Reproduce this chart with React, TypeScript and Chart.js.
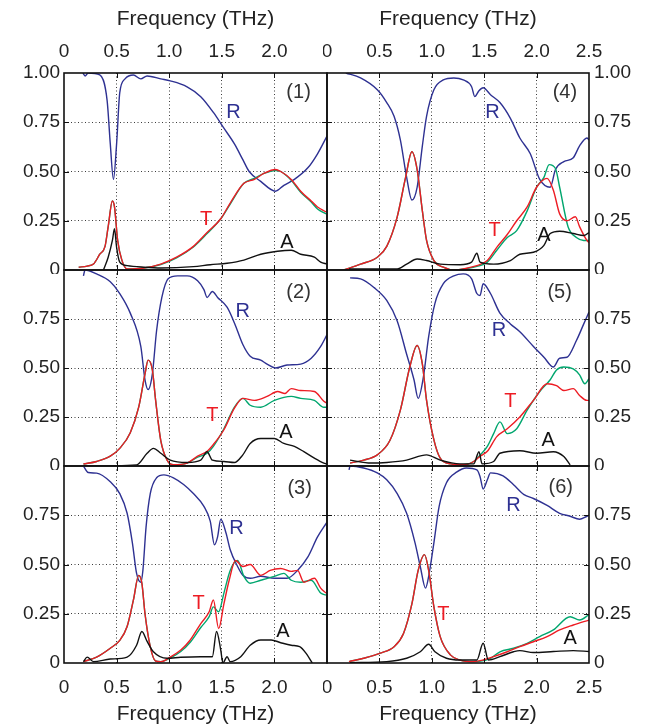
import React, { useEffect, useRef } from 'react';
import { Chart, registerables } from 'chart.js';
Chart.register(...registerables);

const FONT = '"Liberation Sans", Arial, Helvetica, sans-serif';
const C_R = '#2e3192';
const C_T = '#ed1c24';
const C_G = '#00a66e';
const C_A = '#111111';
const C_NUM = '#333333';

const axisTitle = 'Frequency (THz)';
const xTickValues = [0, 0.5, 1, 1.5, 2, 2.5];
const xTickLabelsLeft = ['0', '0.5', '1.0', '1.5', '2.0', ''];
const xTickLabelsRight = ['0', '0.5', '1.0', '1.5', '2.0', '2.5'];
const yTickValues = [0, 0.25, 0.5, 0.75, 1];
const yTickLabelsTop = ['0', '0.25', '0.50', '0.75', '1.00'];
const yTickLabelsLower = ['0', '0.25', '0.50', '0.75', ''];

type P = [number, number][];

// ---------- Panel (1) ----------
const p1R: P = [[0.18,1.0],[0.2,0.985],[0.23,1.0],[0.34,0.99],[0.41,0.86],[0.44,0.64],[0.47,0.46],[0.5,0.64],[0.53,0.9],[0.58,0.97],[0.66,0.99],[0.73,0.97],[0.79,0.985],[0.92,0.97],[1.01,0.96],[1.17,0.93],[1.30,0.88],[1.42,0.80],[1.52,0.72],[1.62,0.64],[1.70,0.56],[1.76,0.50],[1.87,0.45],[2.01,0.40],[2.09,0.43],[2.19,0.46],[2.32,0.52],[2.41,0.59],[2.5,0.68]];
const p1T: P = [[0.14,0.014],[0.22,0.02],[0.28,0.03],[0.34,0.08],[0.39,0.12],[0.42,0.22],[0.46,0.35],[0.48,0.32],[0.51,0.15],[0.55,0.05],[0.6,0.005],[0.76,0.01],[0.92,0.03],[1.07,0.065],[1.23,0.12],[1.36,0.19],[1.49,0.26],[1.58,0.34],[1.71,0.44],[1.81,0.46],[1.9,0.49],[2.01,0.51],[2.06,0.50],[2.16,0.46],[2.25,0.40],[2.35,0.35],[2.41,0.32],[2.49,0.295]];
const p1G: P = [[0.14,0.014],[0.22,0.02],[0.28,0.03],[0.34,0.08],[0.39,0.12],[0.42,0.22],[0.46,0.35],[0.48,0.32],[0.51,0.15],[0.55,0.05],[0.6,0.005],[0.76,0.01],[0.92,0.028],[1.07,0.062],[1.23,0.117],[1.36,0.185],[1.49,0.26],[1.58,0.335],[1.71,0.44],[1.81,0.465],[1.9,0.49],[2.01,0.505],[2.06,0.50],[2.16,0.455],[2.25,0.395],[2.35,0.345],[2.41,0.31],[2.49,0.285]];
const p1A: P = [[0.375,0],[0.42,0.065],[0.46,0.15],[0.48,0.21],[0.5,0.115],[0.53,0.04],[0.6,0.022],[0.76,0.014],[0.92,0.01],[1.23,0.017],[1.39,0.027],[1.55,0.034],[1.71,0.05],[1.87,0.08],[2.03,0.095],[2.16,0.10],[2.25,0.08],[2.38,0.065],[2.44,0.04],[2.5,0.03]];
const p1Labels = [
  { text: '(1)', f: 2.23, v: 0.9, kind: 'num' },
  { text: 'R', f: 1.61, v: 0.8, kind: 'R' },
  { text: 'T', f: 1.35, v: 0.255, kind: 'T' },
  { text: 'A', f: 2.12, v: 0.14, kind: 'A' },
];

// ---------- Panel (2) ----------
const p2R: P = [[0.185,0.97],[0.2,1.0],[0.31,0.98],[0.44,0.94],[0.53,0.88],[0.63,0.78],[0.73,0.61],[0.77,0.44],[0.80,0.39],[0.84,0.47],[0.88,0.69],[0.93,0.86],[0.99,0.955],[1.08,0.97],[1.17,0.97],[1.27,0.945],[1.33,0.90],[1.36,0.86],[1.41,0.89],[1.46,0.86],[1.55,0.81],[1.62,0.73],[1.70,0.62],[1.77,0.56],[1.87,0.54],[1.93,0.52],[2.01,0.50],[2.12,0.515],[2.25,0.52],[2.35,0.55],[2.44,0.61],[2.5,0.67]];
const p2T: P = [[0.185,0.01],[0.31,0.023],[0.44,0.05],[0.53,0.09],[0.63,0.17],[0.71,0.30],[0.77,0.47],[0.80,0.54],[0.84,0.49],[0.87,0.34],[0.92,0.13],[0.98,0.03],[1.04,0.006],[1.17,0.015],[1.27,0.05],[1.36,0.075],[1.42,0.11],[1.52,0.185],[1.62,0.295],[1.70,0.345],[1.81,0.335],[1.93,0.355],[2.03,0.38],[2.1,0.37],[2.16,0.395],[2.25,0.385],[2.38,0.38],[2.47,0.33],[2.5,0.32]];
const p2G: P = [[0.185,0.01],[0.31,0.023],[0.44,0.05],[0.53,0.09],[0.63,0.17],[0.71,0.30],[0.77,0.47],[0.80,0.54],[0.84,0.49],[0.87,0.34],[0.92,0.13],[0.98,0.03],[1.04,0.006],[1.17,0.015],[1.27,0.045],[1.36,0.065],[1.42,0.10],[1.52,0.19],[1.62,0.30],[1.70,0.345],[1.77,0.31],[1.87,0.30],[2.0,0.335],[2.16,0.355],[2.25,0.345],[2.38,0.335],[2.47,0.30],[2.5,0.30]];
const p2A: P = [[0.185,0],[0.69,0.006],[0.79,0.065],[0.85,0.09],[0.92,0.065],[1.01,0.03],[1.17,0.018],[1.30,0.03],[1.36,0.073],[1.41,0.03],[1.52,0.023],[1.62,0.018],[1.70,0.057],[1.77,0.115],[1.87,0.14],[2.0,0.14],[2.09,0.115],[2.19,0.10],[2.28,0.073],[2.38,0.04],[2.47,0.015],[2.5,0.01]];
const p2Labels = [
  { text: '(2)', f: 2.23, v: 0.886, kind: 'num' },
  { text: 'R', f: 1.7, v: 0.79, kind: 'R' },
  { text: 'T', f: 1.41, v: 0.26, kind: 'T' },
  { text: 'A', f: 2.11, v: 0.17, kind: 'A' },
];

// ---------- Panel (3) ----------
const p3R: P = [[0.185,1.0],[0.23,0.967],[0.31,0.964],[0.44,0.92],[0.53,0.86],[0.6,0.76],[0.65,0.61],[0.69,0.455],[0.73,0.41],[0.75,0.47],[0.78,0.69],[0.82,0.86],[0.88,0.94],[0.95,0.955],[1.04,0.94],[1.14,0.905],[1.23,0.86],[1.33,0.795],[1.39,0.72],[1.43,0.60],[1.46,0.64],[1.49,0.73],[1.54,0.66],[1.58,0.575],[1.65,0.49],[1.70,0.445],[1.77,0.43],[1.87,0.44],[2.0,0.43],[2.12,0.43],[2.22,0.47],[2.32,0.54],[2.41,0.64],[2.5,0.715]];
const p3T: P = [[0.185,0.007],[0.31,0.03],[0.44,0.075],[0.53,0.115],[0.6,0.185],[0.66,0.32],[0.71,0.445],[0.74,0.405],[0.77,0.25],[0.82,0.083],[0.87,0.01],[0.92,0.007],[1.01,0.03],[1.11,0.066],[1.2,0.117],[1.30,0.2],[1.38,0.26],[1.42,0.32],[1.47,0.175],[1.52,0.30],[1.57,0.42],[1.63,0.52],[1.70,0.49],[1.77,0.50],[1.87,0.445],[1.96,0.47],[2.06,0.48],[2.16,0.465],[2.22,0.47],[2.28,0.41],[2.38,0.43],[2.44,0.38],[2.49,0.355]];
const p3G: P = [[0.185,0.007],[0.31,0.03],[0.44,0.075],[0.53,0.115],[0.6,0.185],[0.66,0.32],[0.71,0.445],[0.74,0.405],[0.77,0.25],[0.82,0.083],[0.87,0.01],[0.92,0.007],[1.01,0.025],[1.11,0.058],[1.2,0.105],[1.30,0.18],[1.38,0.235],[1.42,0.285],[1.47,0.26],[1.52,0.355],[1.58,0.47],[1.65,0.52],[1.71,0.44],[1.77,0.405],[1.87,0.42],[2.0,0.44],[2.09,0.455],[2.16,0.42],[2.25,0.41],[2.35,0.42],[2.44,0.355],[2.49,0.345]];
const p3A: P = [[0.185,0.007],[0.22,0.03],[0.28,0.007],[0.44,0.02],[0.6,0.03],[0.69,0.09],[0.74,0.16],[0.79,0.11],[0.85,0.057],[0.98,0.024],[1.11,0.029],[1.30,0.032],[1.41,0.032],[1.45,0.16],[1.49,0.066],[1.51,0],[1.55,0.032],[1.58,0.007],[1.68,0.032],[1.77,0.09],[1.87,0.117],[1.97,0.117],[2.06,0.103],[2.16,0.09],[2.24,0.083],[2.3,0.05],[2.36,0]];
const p3Labels = [
  { text: '(3)', f: 2.24, v: 0.887, kind: 'num' },
  { text: 'R', f: 1.64, v: 0.685, kind: 'R' },
  { text: 'T', f: 1.28, v: 0.3, kind: 'T' },
  { text: 'A', f: 2.08, v: 0.16, kind: 'A' },
];

// ---------- Panel (4) ----------
const p4R: P = [[0.18,1.0],[0.32,0.975],[0.48,0.915],[0.57,0.85],[0.64,0.78],[0.7,0.66],[0.76,0.47],[0.81,0.355],[0.86,0.42],[0.91,0.63],[0.95,0.78],[1.02,0.915],[1.11,0.965],[1.21,0.975],[1.30,0.965],[1.38,0.93],[1.41,0.88],[1.45,0.91],[1.49,0.925],[1.56,0.89],[1.65,0.85],[1.75,0.77],[1.84,0.67],[1.94,0.59],[2.03,0.46],[2.13,0.42],[2.18,0.51],[2.26,0.55],[2.35,0.57],[2.41,0.63],[2.48,0.67],[2.5,0.66]];
const p4T: P = [[0.16,0],[0.32,0.03],[0.48,0.065],[0.57,0.12],[0.67,0.27],[0.75,0.47],[0.81,0.60],[0.86,0.51],[0.91,0.30],[0.95,0.15],[1.02,0.048],[1.11,0.014],[1.21,0],[1.34,0.01],[1.43,0.022],[1.53,0.048],[1.62,0.115],[1.72,0.18],[1.81,0.25],[1.91,0.32],[2.0,0.42],[2.1,0.465],[2.16,0.405],[2.22,0.285],[2.29,0.25],[2.37,0.27],[2.41,0.22],[2.48,0.15],[2.5,0.14]];
const p4G: P = [[0.16,0],[0.32,0.03],[0.48,0.065],[0.57,0.12],[0.67,0.27],[0.75,0.47],[0.81,0.60],[0.86,0.51],[0.91,0.30],[0.95,0.15],[1.02,0.048],[1.11,0.014],[1.21,0],[1.34,0.008],[1.43,0.018],[1.53,0.04],[1.62,0.10],[1.72,0.165],[1.81,0.2],[1.91,0.30],[2.0,0.42],[2.07,0.47],[2.12,0.535],[2.18,0.515],[2.22,0.42],[2.3,0.22],[2.38,0.165],[2.45,0.15],[2.5,0.15]];
const p4A: P = [[0.21,0.005],[0.67,0.005],[0.76,0.03],[0.86,0.056],[0.95,0.048],[1.08,0.03],[1.27,0.027],[1.38,0.04],[1.43,0.085],[1.46,0.04],[1.59,0.03],[1.75,0.048],[1.84,0.08],[1.97,0.09],[2.07,0.125],[2.13,0.185],[2.22,0.197],[2.35,0.185],[2.45,0.175],[2.5,0.19]];
const p4Labels = [
  { text: '(4)', f: 2.27, v: 0.9, kind: 'num' },
  { text: 'R', f: 1.58, v: 0.8, kind: 'R' },
  { text: 'T', f: 1.6, v: 0.2, kind: 'T' },
  { text: 'A', f: 2.07, v: 0.175, kind: 'A' },
];

// ---------- Panel (5) ----------
const p5R: P = [[0.22,0.96],[0.32,0.955],[0.45,0.91],[0.57,0.845],[0.67,0.74],[0.76,0.57],[0.83,0.44],[0.87,0.345],[0.92,0.455],[0.97,0.66],[1.03,0.83],[1.11,0.93],[1.21,0.97],[1.30,0.98],[1.38,0.955],[1.43,0.88],[1.46,0.87],[1.49,0.93],[1.56,0.88],[1.65,0.78],[1.75,0.725],[1.84,0.685],[1.97,0.61],[2.07,0.555],[2.16,0.505],[2.22,0.55],[2.29,0.555],[2.38,0.64],[2.45,0.725],[2.5,0.785]];
const p5T: P = [[0.22,0.015],[0.35,0.03],[0.48,0.057],[0.6,0.13],[0.7,0.285],[0.79,0.505],[0.86,0.615],[0.91,0.52],[0.95,0.335],[1.02,0.133],[1.08,0.04],[1.18,0.011],[1.30,0.006],[1.40,0.023],[1.46,0.05],[1.53,0.075],[1.62,0.15],[1.72,0.19],[1.84,0.25],[1.97,0.335],[2.1,0.42],[2.19,0.41],[2.26,0.385],[2.35,0.395],[2.41,0.36],[2.48,0.335],[2.5,0.335]];
const p5G: P = [[0.22,0.015],[0.35,0.03],[0.48,0.057],[0.6,0.13],[0.7,0.285],[0.79,0.505],[0.86,0.615],[0.91,0.52],[0.95,0.335],[1.02,0.133],[1.08,0.04],[1.18,0.011],[1.30,0.006],[1.40,0.023],[1.46,0.055],[1.53,0.10],[1.59,0.165],[1.65,0.225],[1.72,0.165],[1.81,0.19],[1.91,0.285],[2.03,0.38],[2.13,0.44],[2.19,0.49],[2.26,0.505],[2.35,0.495],[2.41,0.465],[2.46,0.42],[2.5,0.445]];
const p5A: P = [[0.22,0.03],[0.42,0.015],[0.57,0.018],[0.76,0.03],[0.95,0.057],[1.08,0.03],[1.27,0.011],[1.40,0.011],[1.45,0.073],[1.48,0.011],[1.59,0.023],[1.65,0.065],[1.84,0.078],[2.0,0.065],[2.16,0.073],[2.26,0.048],[2.32,0.006]];
const p5Labels = [
  { text: '(5)', f: 2.22, v: 0.886, kind: 'num' },
  { text: 'R', f: 1.64, v: 0.69, kind: 'R' },
  { text: 'T', f: 1.75, v: 0.33, kind: 'T' },
  { text: 'A', f: 2.11, v: 0.13, kind: 'A' },
];

// ---------- Panel (6) ----------
const p6R: P = [[0.21,0.98],[0.22,1.0],[0.35,0.99],[0.48,0.965],[0.57,0.93],[0.67,0.86],[0.76,0.76],[0.84,0.61],[0.89,0.49],[0.94,0.38],[0.97,0.44],[1.02,0.61],[1.07,0.795],[1.14,0.915],[1.24,0.97],[1.33,0.99],[1.43,0.98],[1.46,0.947],[1.49,0.883],[1.53,0.93],[1.56,0.965],[1.68,0.95],[1.78,0.905],[1.88,0.855],[1.97,0.835],[2.1,0.8],[2.22,0.76],[2.32,0.745],[2.41,0.73],[2.48,0.745],[2.5,0.75]];
const p6T: P = [[0.21,0.007],[0.35,0.024],[0.51,0.05],[0.64,0.083],[0.73,0.15],[0.81,0.30],[0.87,0.47],[0.93,0.55],[0.97,0.47],[1.02,0.285],[1.08,0.134],[1.18,0.04],[1.27,0.015],[1.4,0.007],[1.49,0.015],[1.59,0.032],[1.72,0.057],[1.84,0.083],[1.97,0.108],[2.1,0.134],[2.22,0.168],[2.35,0.193],[2.5,0.218]];
const p6G: P = [[0.21,0.007],[0.35,0.024],[0.51,0.05],[0.64,0.083],[0.73,0.15],[0.81,0.30],[0.87,0.47],[0.93,0.55],[0.97,0.47],[1.02,0.285],[1.08,0.134],[1.18,0.04],[1.27,0.015],[1.4,0.007],[1.45,0.008],[1.56,0.024],[1.65,0.057],[1.78,0.075],[1.91,0.1],[2.03,0.134],[2.16,0.168],[2.32,0.235],[2.41,0.218],[2.5,0.245]];
const p6A: P = [[0.22,0.002],[0.57,0.007],[0.76,0.024],[0.89,0.057],[0.97,0.095],[1.03,0.057],[1.14,0.024],[1.27,0.015],[1.43,0.015],[1.49,0.1],[1.54,0.015],[1.65,0.032],[1.78,0.057],[1.84,0.063],[1.97,0.053],[2.16,0.058],[2.35,0.063],[2.5,0.058]];
const p6Labels = [
  { text: '(6)', f: 2.23, v: 0.89, kind: 'num' },
  { text: 'R', f: 1.78, v: 0.8, kind: 'R' },
  { text: 'T', f: 1.11, v: 0.245, kind: 'T' },
  { text: 'A', f: 2.32, v: 0.125, kind: 'A' },
];

const panels = [
  { col: 0, row: 0, R: p1R, T: p1T, G: p1G, A: p1A, labels: p1Labels },
  { col: 0, row: 1, R: p2R, T: p2T, G: p2G, A: p2A, labels: p2Labels },
  { col: 0, row: 2, R: p3R, T: p3T, G: p3G, A: p3A, labels: p3Labels },
  { col: 1, row: 0, R: p4R, T: p4T, G: p4G, A: p4A, labels: p4Labels },
  { col: 1, row: 1, R: p5R, T: p5T, G: p5G, A: p5A, labels: p5Labels },
  { col: 1, row: 2, R: p6R, T: p6T, G: p6G, A: p6A, labels: p6Labels },
];

const kindColor: Record<string, string> = { R: C_R, T: C_T, A: C_A, num: C_NUM };

const decorPlugin = {
  id: 'panelDecor',
  afterDatasetsDraw(chart: any, _args: any, opts: any) {
    const { ctx, chartArea, scales } = chart;
    const { left, top, right, bottom } = chartArea;
    const xs = scales.x;
    const ys = scales.y;
    ctx.save();
    ctx.strokeStyle = '#111';
    ctx.lineWidth = 1;
    ctx.beginPath();
    xTickValues.slice(1, -1).forEach((v) => {
      const px = Math.round(xs.getPixelForValue(v)) + 0.5;
      ctx.moveTo(px, top); ctx.lineTo(px, top + 5);
      ctx.moveTo(px, bottom); ctx.lineTo(px, bottom - 5);
    });
    yTickValues.slice(1, -1).forEach((v) => {
      const py = Math.round(ys.getPixelForValue(v)) + 0.5;
      ctx.moveTo(left, py); ctx.lineTo(left + 5, py);
      ctx.moveTo(right, py); ctx.lineTo(right - 5, py);
    });
    ctx.stroke();
    ctx.lineWidth = 1.6;
    ctx.strokeRect(left, top, right - left, bottom - top);
    ctx.textAlign = 'center';
    ctx.textBaseline = 'middle';
    ctx.font = `20px ${FONT}`;
    (opts.labels || []).forEach((l: any) => {
      ctx.fillStyle = kindColor[l.kind];
      ctx.fillText(l.text, xs.getPixelForValue(l.f), ys.getPixelForValue(l.v));
    });
    ctx.restore();
  },
};

function Panel({ cfg }: { cfg: any }) {
  const ref = useRef<HTMLCanvasElement | null>(null);
  const isLeft = cfg.col === 0;
  const row = cfg.row;
  const left = isLeft ? 0 : 323;
  const width = isLeft ? 331 : 328;
  const top = [0, 266, 462][row];
  const height = [274, 204, 265][row];

  useEffect(() => {
    if (!ref.current) return;
    const pts = (a: P) => a.map(([x, y]) => ({ x, y }));
    const xLabels = isLeft ? xTickLabelsLeft : xTickLabelsRight;
    const yLabels = row === 0 ? yTickLabelsTop : yTickLabelsLower;
    const fitH = (h: number) => (s: any) => {
      s.height = h; s.paddingTop = 0; s.paddingBottom = 0; s.paddingLeft = 0; s.paddingRight = 0;
    };
    const fitW = (w: number) => (s: any) => {
      s.width = w; s.paddingTop = 0; s.paddingBottom = 0; s.paddingLeft = 0; s.paddingRight = 0;
    };
    const gridColor = (max: number) => (c: any) => {
      const v = c.tick ? c.tick.value : 0;
      return v <= 1e-6 || v >= max - 1e-6 ? 'rgba(0,0,0,0)' : '#3c3c3c';
    };
    const line = (data: P, color: string) => ({
      data: pts(data),
      borderColor: color,
      backgroundColor: color,
      borderWidth: 1.4,
      pointRadius: 0,
      fill: false,
      cubicInterpolationMode: 'monotone' as const,
    });
    // Chart.js paints the first dataset on top: A, T (red), G (green), R
    const chart = new Chart(ref.current, {
      type: 'line',
      data: {
        datasets: [line(cfg.A, C_A), line(cfg.T, C_T), line(cfg.G, C_G), line(cfg.R, C_R)],
      },
      options: {
        animation: false,
        responsive: false,
        devicePixelRatio: 1,
        parsing: false as any,
        layout: {
          autoPadding: false,
          padding: {
            left: isLeft ? 0 : 4,
            right: isLeft ? 4 : 0,
            top: row === 0 ? 0 : 4,
            bottom: row === 2 ? 0 : 4,
          },
        },
        plugins: {
          legend: { display: false },
          tooltip: { enabled: false },
          panelDecor: { labels: cfg.labels },
        } as any,
        scales: {
          x: {
            type: 'linear',
            min: 0,
            max: 2.5,
            position: row === 0 ? 'top' : 'bottom',
            afterFit: fitH(row === 0 ? 73 : row === 2 ? 64 : 0),
            ticks: {
              display: row !== 1,
              stepSize: 0.5,
              autoSkip: false,
              maxRotation: 0,
              padding: row === 0 ? 10 : 13,
              color: '#222',
              font: { family: FONT, size: 19 },
              callback: (v: any) => xLabels[Math.round(Number(v) / 0.5)] ?? '',
            },
            grid: { drawTicks: false, color: gridColor(2.5), lineWidth: 1 },
            border: { display: false, dash: [1, 2.5] },
            title: {
              display: row !== 1,
              text: axisTitle,
              color: '#222',
              font: { family: FONT, size: 21 },
              padding: row === 0 ? { top: 7, bottom: 0 } : { top: 0, bottom: 0 },
            },
          },
          y: {
            type: 'linear',
            min: 0,
            max: 1,
            position: isLeft ? 'left' : 'right',
            afterFit: fitW(isLeft ? 64 : 62),
            ticks: {
              stepSize: 0.25,
              autoSkip: false,
              padding: isLeft ? 4 : 5,
              color: '#222',
              font: { family: FONT, size: 19 },
              callback: (v: any) => yLabels[Math.round(Number(v) / 0.25)] ?? '',
            },
            grid: { drawTicks: false, color: gridColor(1), lineWidth: 1 },
            border: { display: false, dash: [1, 2.5] },
          },
        },
      } as any,
      plugins: [decorPlugin],
    });
    return () => chart.destroy();
  }, []);

  return (
    <canvas
      ref={ref}
      width={width}
      height={height}
      style={{ position: 'absolute', left, top, width, height }}
    />
  );
}

export default function App() {
  return (
    <div style={{ position: 'absolute', left: 0, top: 0, width: 651, height: 727, background: '#fff' }}>
      {panels.map((p, i) => (
        <Panel key={i} cfg={p} />
      ))}
    </div>
  );
}
